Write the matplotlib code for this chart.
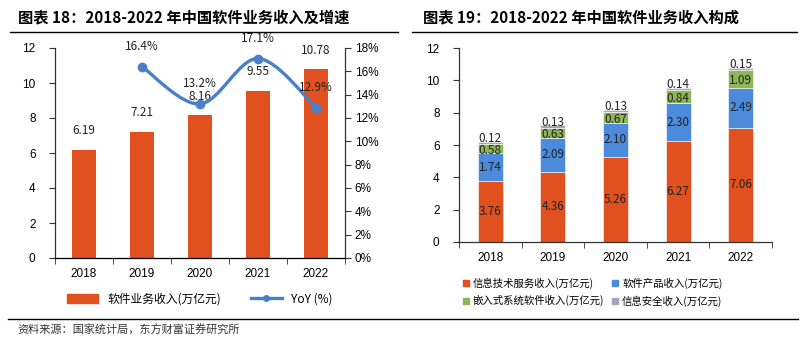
import matplotlib.pyplot as plt
from matplotlib.path import Path
from matplotlib.patches import PathPatch, Patch
from matplotlib.lines import Line2D
from matplotlib.ticker import FixedLocator, PercentFormatter

plt.rcParams['font.family'] = ['Liberation Sans', 'Noto Sans CJK SC', 'DejaVu Sans']

years = ['2018', '2019', '2020', '2021', '2022']
revenue = [6.19, 7.21, 8.16, 9.55, 10.78]
yoy = [None, 16.4, 13.2, 17.1, 12.9]

it_service = [3.76, 4.36, 5.26, 6.27, 7.06]
sw_product = [1.74, 2.09, 2.10, 2.30, 2.49]
embedded = [0.58, 0.63, 0.67, 0.84, 1.09]
security = [0.12, 0.13, 0.13, 0.14, 0.15]

orange = '#E0511F'
blue = '#4A7FC9'
blue2 = '#4C8BDB'
green = '#8DB656'
gray = '#A6A6A6'
lav = '#A9A1C4'
lbl_font = ['Noto Sans CJK SC', 'DejaVu Sans']

W, H = 804, 346
fig = plt.figure(figsize=(W / 100, H / 100), dpi=100)


def box(x0, y0, x1, y1):
    return [x0 / W, 1 - y1 / H, (x1 - x0) / W, (y1 - y0) / H]


def style_axis(ax):
    ax.spines['top'].set_visible(False)
    ax.spines['right'].set_visible(False)
    for s in ax.spines.values():
        s.set_color('#333333')
        s.set_linewidth(0.9)
    ax.set_xlim(-0.5, len(years) - 0.5)
    ax.set_xticks(range(len(years)))
    ax.set_xticklabels(years, fontsize=8.5)
    ax.xaxis.set_minor_locator(FixedLocator([i + 0.5 for i in range(-1, len(years))]))
    ax.tick_params(axis='x', which='major', length=0, pad=7)
    ax.tick_params(axis='x', which='minor', length=4, color='#333333')
    ax.tick_params(axis='y', length=4, labelsize=8.5, color='#333333', pad=10)


# 标题和分隔线
fig.text(18 / W, 1 - 17 / H, '图表 18：2018-2022 年中国软件业务收入及增速',
         fontsize=11, fontweight='bold', va='center', family=lbl_font)
fig.text(423 / W, 1 - 17 / H, '图表 19：2018-2022 年中国软件业务收入构成',
         fontsize=11, fontweight='bold', va='center', family=lbl_font)
fig.add_artist(Line2D([10 / W, 398 / W], [1 - 32 / H] * 2, color='black', lw=1))
fig.add_artist(Line2D([412 / W, 797 / W], [1 - 32 / H] * 2, color='black', lw=1))
fig.add_artist(Line2D([8 / W, 798 / W], [1 - 319 / H] * 2, color='black', lw=1))
fig.text(17 / W, 1 - 330 / H, '资料来源：国家统计局，东方财富证券研究所',
         fontsize=8, color='#333333', va='center', family=lbl_font)

# 左图：收入及增速
ax1 = fig.add_axes(box(55, 48, 345, 258))
x = list(range(len(years)))
ax1.bar(x, revenue, width=0.4, color=orange, zorder=2)
ax1.set_ylim(0, 12)
ax1.set_yticks(range(0, 13, 2))
style_axis(ax1)
for i, v in enumerate(revenue):
    ax1.annotate(f'{v:.2f}', (i, v), xytext=(0, 9), textcoords='offset points',
                 ha='center', va='bottom', fontsize=8.5, family=lbl_font, color='#222222')

ax2 = ax1.twinx()
ax2.set_ylim(0, 18)
ax2.set_yticks(range(0, 19, 2))
ax2.yaxis.set_major_formatter(PercentFormatter(decimals=0))
ax2.spines['top'].set_visible(False)
ax2.spines['left'].set_visible(False)
ax2.spines['right'].set_color('#333333')
ax2.spines['right'].set_linewidth(0.9)
ax2.tick_params(axis='y', length=4, labelsize=8.5, color='#333333', pad=3)

# 平滑曲线（Catmull-Rom 转贝塞尔）
px = [i for i, v in enumerate(yoy) if v is not None]
py = [v for v in yoy if v is not None]
verts = [(px[0], py[0])]
codes = [Path.MOVETO]
n = len(px)
for k in range(n - 1):
    p0 = (px[max(k - 1, 0)], py[max(k - 1, 0)])
    p1 = (px[k], py[k])
    p2 = (px[k + 1], py[k + 1])
    p3 = (px[min(k + 2, n - 1)], py[min(k + 2, n - 1)])
    t = 1 / 6
    c1 = (p1[0] + (p2[0] - p0[0]) * t, p1[1] + (p2[1] - p0[1]) * t)
    c2 = (p2[0] - (p3[0] - p1[0]) * t, p2[1] - (p3[1] - p1[1]) * t)
    verts += [c1, c2, p2]
    codes += [Path.CURVE4] * 3
ax2.add_patch(PathPatch(Path(verts, codes), facecolor='none', edgecolor=blue, lw=2.4, zorder=3))
ax2.plot(px, py, 'o', color=blue, markersize=6, zorder=4)
for i, v in zip(px, py):
    ax2.annotate(f'{v:.1f}%', (i, v), xytext=(0, 10), textcoords='offset points',
                 ha='center', va='bottom', fontsize=8.5, family=lbl_font, color='#222222')

h1 = Patch(color=orange)
h2 = Line2D([], [], color=blue, lw=2.4, marker='o', markersize=4)
fig.legend([h1, h2], ['软件业务收入(万亿元)', 'YoY (%)'], loc='center',
           bbox_to_anchor=(200 / W, 1 - 299 / H), ncol=2, frameon=False,
           handlelength=2.6, columnspacing=2.5, prop={'family': lbl_font, 'size': 8.5})

# 右图：收入构成
ax3 = fig.add_axes(box(459, 48, 772, 242))
series = [(it_service, orange, '信息技术服务收入(万亿元)'),
          (sw_product, blue2, '软件产品收入(万亿元)'),
          (embedded, green, '嵌入式系统软件收入(万亿元)'),
          (security, gray, '信息安全收入(万亿元)')]
nudge = [0, 0, -1.5, 3]  # 小段标签上下错开一点，减少重叠
bottom = [0] * len(years)
for k, (vals, col, name) in enumerate(series):
    ax3.bar(x, vals, width=0.4, bottom=bottom, color=col, edgecolor='white', linewidth=0.4, zorder=2)
    for i, v in enumerate(vals):
        ax3.annotate(f'{v:.2f}', (i, bottom[i] + v / 2), xytext=(0, nudge[k]),
                     textcoords='offset points', ha='center', va='center',
                     fontsize=8.5, family=lbl_font, color='#222222')
    bottom = [b + v for b, v in zip(bottom, vals)]
ax3.set_ylim(0, 12)
ax3.set_yticks(range(0, 13, 2))
style_axis(ax3)

handles = [Line2D([], [], ls='none', marker='s', markersize=5, color=c)
           for c in (orange, blue2, green, lav)]
names = [s[2] for s in series]
fig.legend([handles[0], handles[2], handles[1], handles[3]],
           [names[0], names[2], names[1], names[3]], loc='center',
           bbox_to_anchor=(592 / W, 1 - 292 / H), ncol=2, frameon=False,
           handlelength=0.8, handletextpad=0.3, columnspacing=0.6, labelspacing=0.6,
           prop={'family': lbl_font, 'size': 7.5})

fig.savefig('out.png', dpi=100)
